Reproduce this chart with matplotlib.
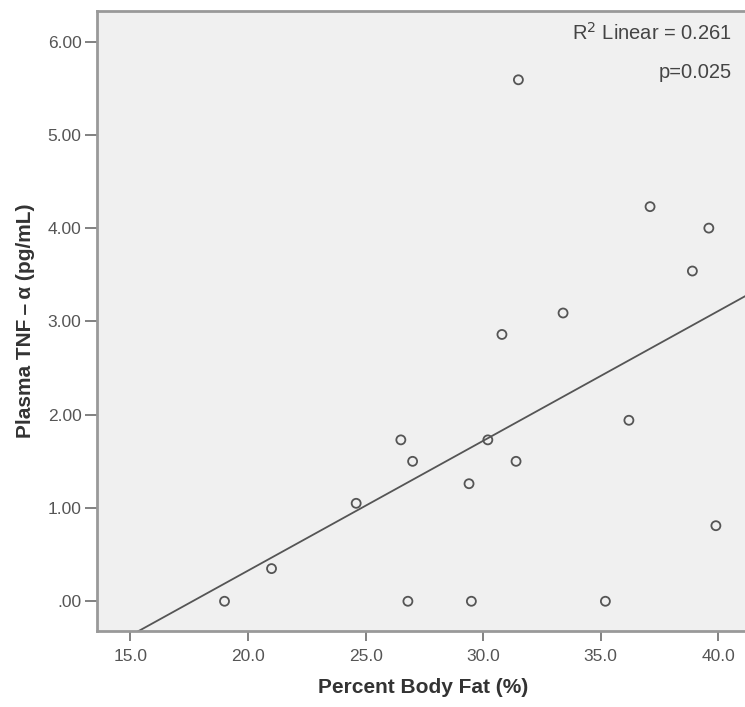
import numpy as np
import matplotlib.pyplot as plt

plt.rcParams['font.family'] = ['Liberation Sans', 'DejaVu Sans']

# percent body fat vs plasma TNF-alpha, one point per subject
body_fat = [19.0, 21.0, 24.6, 26.5, 27.0, 26.8, 29.4, 29.5, 30.2, 31.4,
            30.8, 31.5, 33.4, 35.2, 36.2, 37.1, 38.9, 39.6, 39.9]
tnf_alpha = [0.00, 0.35, 1.05, 1.73, 1.50, 0.00, 1.26, 0.00, 1.73, 1.50,
             2.86, 5.59, 3.09, 0.00, 1.94, 4.23, 3.54, 4.00, 0.81]

x_ticks = [15.0, 20.0, 25.0, 30.0, 35.0, 40.0]
x_tick_labels = ["15.0", "20.0", "25.0", "30.0", "35.0", "40.0"]
y_ticks = [0, 1, 2, 3, 4, 5, 6]
y_tick_labels = [".00", "1.00", "2.00", "3.00", "4.00", "5.00", "6.00"]

r2_text = "R$^2$ Linear = 0.261"
p_text = "p=0.025"

x = np.array(body_fat)
y = np.array(tnf_alpha)

fig = plt.figure(figsize=(7.45, 7.07), dpi=100)
ax = fig.add_axes([0.130, 0.108, 0.877, 0.8764])
ax.set_facecolor('#f0f0f0')

ax.scatter(x, y, s=42, facecolors='none', edgecolors='#555555',
           linewidths=1.3, zorder=3)

# least squares fit line across the whole plot
slope, intercept = np.polyfit(x, y, 1)
xl = np.array([13.0, 42.0])
ax.plot(xl, slope * xl + intercept, color='#555555', lw=1.3, zorder=2)

ax.set_xlim(13.57, 41.36)
ax.set_ylim(-0.315, 6.327)

ax.set_xticks(x_ticks)
ax.set_xticklabels(x_tick_labels)
ax.set_yticks(y_ticks)
ax.set_yticklabels(y_tick_labels)
ax.tick_params(colors='#777777', labelcolor='#555555', labelsize=12.5,
               length=7, width=1.3, direction='out')
ax.tick_params(axis='x', pad=6)
ax.tick_params(axis='y', length=9, pad=2)

for side in ['left', 'bottom', 'top', 'right']:
    ax.spines[side].set_color('#999999')
    ax.spines[side].set_linewidth(2)

ax.set_xlabel("Percent Body Fat (%)", fontsize=15, fontweight='bold',
              color='#333333', labelpad=10)
ax.set_ylabel("Plasma TNF\u2009\u2013\u2009\u03b1 (pg/mL)", fontsize=15,
              fontweight='bold', color='#333333', labelpad=9)

ax.text(0.972, 0.965, r2_text, transform=ax.transAxes, ha='right', va='center',
        fontsize=14.5, color='#444444')
ax.text(0.972, 0.90, p_text, transform=ax.transAxes, ha='right', va='center',
        fontsize=14.5, color='#444444')

plt.savefig("out.png", dpi=100)
